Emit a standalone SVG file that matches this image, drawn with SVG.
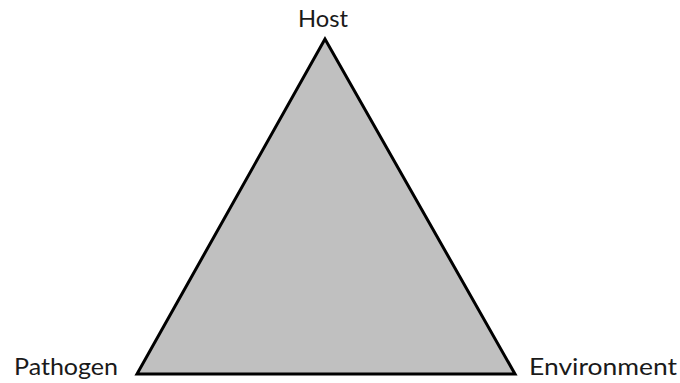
<svg xmlns="http://www.w3.org/2000/svg" width="680" height="383" viewBox="0 0 680 383">
<style>
.lbl{font-family:Lato,"Open Sans","Liberation Sans",sans-serif;font-size:23px;fill:#1a1a1a}
</style>
<rect width="680" height="383" fill="#ffffff"/>
<g id="triangle">
<polygon points="325,39 137,374 515,374" fill="#c0c0c0" stroke="#000" stroke-width="3" stroke-linejoin="miter"/>
</g>
<g id="host"><text class="lbl" x="298" y="27" textLength="50" lengthAdjust="spacingAndGlyphs">Host</text></g>
<g id="pathogen"><text class="lbl" x="14" y="375" textLength="104" lengthAdjust="spacingAndGlyphs">Pathogen</text></g>
<g id="environment"><text class="lbl" x="529" y="375" textLength="148" lengthAdjust="spacingAndGlyphs">Environment</text></g>
</svg>
